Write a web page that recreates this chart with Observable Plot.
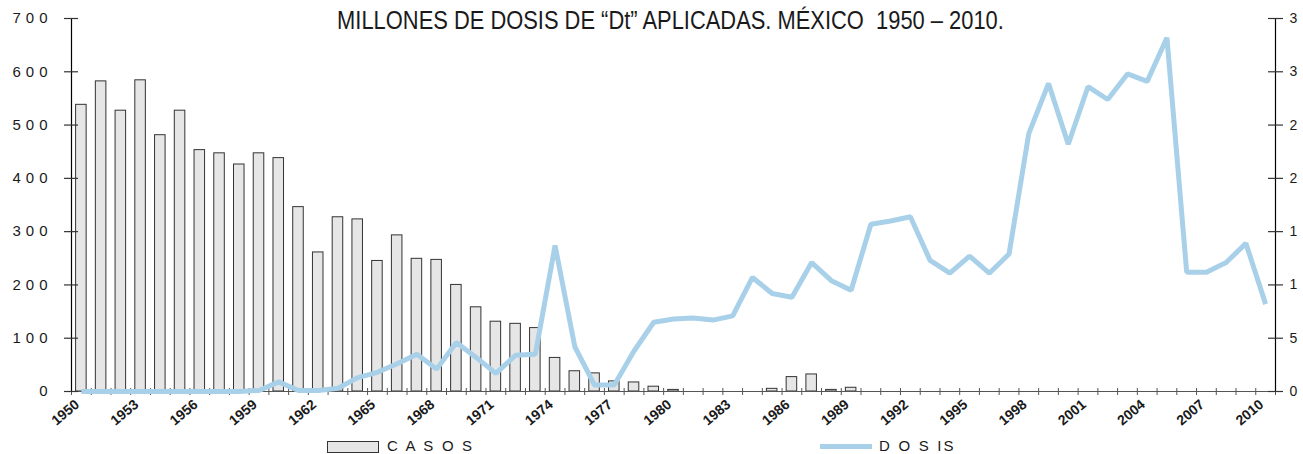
<!DOCTYPE html>
<html>
<head>
<meta charset="utf-8">
<script src="https://cdn.jsdelivr.net/npm/d3@7"></script>
<script src="https://cdn.jsdelivr.net/npm/@observablehq/plot@0.6"></script>
<style>
  html, body { margin: 0; padding: 0; background: #fff; overflow: hidden; }
  #wrap { position: relative; width: 1303px; height: 454px; }
  #title { position: absolute; left: 19px; top: 6.5px; width: 1303px; text-align: center;
           font: 26px/26px "Liberation Sans", Arial, sans-serif; color: #1a1a1a; white-space: pre;
           transform: scaleX(0.842); transform-origin: 651.5px 0; }
  #legend { position: absolute; left: 0; top: 432px; width: 1303px; height: 22px; }
  .sw-bar { position: absolute; left: 327px; top: 9px; width: 50px; height: 10px; background: #e6e6e6; border: 1px solid #333; }
  .sw-line { position: absolute; left: 820px; top: 11.5px; width: 52px; height: 5px; background: #a8d1e9; }
  .lg-text { position: absolute; top: 5px; font: 15px/18px "Liberation Sans", Arial, sans-serif; color: #1a1a1a; letter-spacing: 2.2px; white-space: pre; }
</style>
</head>
<body>
<div id="wrap">
  <div id="chart"></div>
  <div id="title"></div>
  <div id="legend">
    <div class="sw-bar"></div><div class="lg-text" id="lg1" style="left:387px"></div>
    <div class="sw-line"></div><div class="lg-text" id="lg2" style="left:879px"></div>
  </div>
</div>
<script>
// ---- data ----
const years = [1950,1951,1952,1953,1954,1955,1956,1957,1958,1959,
               1960,1961,1962,1963,1964,1965,1966,1967,1968,1969,
               1970,1971,1972,1973,1974,1975,1976,1977,1978,1979,
               1980,1981,1982,1983,1984,1985,1986,1987,1988,1989,
               1990,1991,1992,1993,1994,1995,1996,1997,1998,1999,
               2000,2001,2002,2003,2004,2005,2006,2007,2008,2009,2010];
const casos = [538,582,527,584,481,527,453,447,426,447,
               438,346,261,327,323,245,293,249,247,200,
               158,131,127,119,63,38,34,19,17,9,
               3,0,0,0,0,5,27,32,3,7,
               0,0,0,0,0,0,0,0,0,0,
               0,0,0,0,0,0,0,0,0,0,0];
const dosis = [0,0,0,0,0,0,0,0,0,0.01,
               0.09,0.01,0.01,0.03,0.13,0.18,0.26,0.35,0.21,0.46,
               0.32,0.17,0.34,0.35,1.37,0.42,0.06,0.06,0.38,0.65,
               0.68,0.69,0.67,0.71,1.07,0.92,0.885,1.21,1.04,0.95,
               1.57,1.60,1.64,1.23,1.11,1.27,1.11,1.29,2.42,2.89,
               2.32,2.86,2.74,2.98,2.91,3.32,1.12,1.12,1.21,1.39,0.82];
const xLabelYears = [1950,1953,1956,1959,1962,1965,1968,1971,1974,1977,1980,1983,1986,1989,1992,1995,1998,2001,2004,2007,2010];
const leftTicks = [0,100,200,300,400,500,600,700];
const rightTicks = [0,0.5,1,1.5,2,2.5,3,3.5];
const rightTickLabels = ["0","5","1","1","2","2","3","3"];
const titleText = "MILLONES DE DOSIS DE \u201CDt\u201D APLICADAS. MÉXICO  1950 \u2013 2010.";
const legendCasos = "C A S O S";
const legendDosis = "D O S IS";

// ---- build ----
const rows = years.map((year, i) => ({year, casos: casos[i], dosis: dosis[i]}));
const ratio = 700 / 3.5; // right axis (millions) onto left axis units
const rightLabel = new Map(rightTicks.map((v, i) => [v * ratio, rightTickLabels[i]]));
const bounds = years.map(y => y - 0.5).concat([years[years.length - 1] + 0.5]);
const x0 = years[0] - 0.5, x1 = years[years.length - 1] + 0.5;

const chart = Plot.plot({
  width: 1303, height: 432,
  marginLeft: 71, marginRight: 28, marginTop: 18, marginBottom: 41,
  x: {domain: [x0, x1], label: null},
  y: {domain: [0, 700], label: null},
  style: {fontFamily: "'Liberation Sans', Arial, sans-serif", fontSize: "15px", color: "#1a1a1a", background: "#fff"},
  marks: [
    Plot.rectY(rows.filter(d => d.casos > 0), {x1: d => d.year - 0.5, x2: d => d.year + 0.5, y: "casos",
      insetLeft: 4.6, insetRight: 4.6, fill: "#e6e6e6", stroke: "#333", strokeWidth: 1}),
    Plot.ruleY([0], {stroke: "#555", strokeWidth: 1.2}),
    Plot.ruleX(bounds, {y1: 0, y2: 0, insetTop: -3, insetBottom: -4, stroke: "#555"}),
    Plot.ruleX([x0, x1], {stroke: "#000", strokeWidth: 1.2}),
    Plot.ruleY(leftTicks, {x1: x0, x2: x0, insetLeft: -7, insetRight: -7, stroke: "#333", strokeWidth: 1.2}),
    Plot.ruleY(rightTicks.map(v => v * ratio), {x1: x1, x2: x1, insetLeft: -7, insetRight: -8, stroke: "#333", strokeWidth: 1.2}),
    Plot.line(rows, {x: "year", y: d => d.dosis * ratio, stroke: "#a8d1e9", strokeWidth: 5, strokeLinejoin: "miter", strokeLinecap: "butt"}),
    Plot.axisY(leftTicks, {anchor: "left", tickSize: 0, tickPadding: 19, fontSize: 15, tickFormat: d => String(d)}),
    Plot.axisY(rightTicks.map(v => v * ratio), {anchor: "right", tickSize: 0, tickPadding: 14, fontSize: 14, textAnchor: "start", tickFormat: d => rightLabel.get(d)}),
    Plot.axisX(xLabelYears, {anchor: "bottom", tickSize: 0, tickPadding: 11, tickRotate: -40, fontSize: 14, fontWeight: "bold", dx: -4, tickFormat: d => String(d)})
  ]
});
document.getElementById("chart").appendChild(chart);
d3.select(chart).selectAll('g[aria-label="y-axis tick label"] text').style("letter-spacing", "5px");
document.getElementById("title").textContent = titleText;
document.getElementById("lg1").textContent = legendCasos;
document.getElementById("lg2").textContent = legendDosis;
</script>
</body>
</html>
